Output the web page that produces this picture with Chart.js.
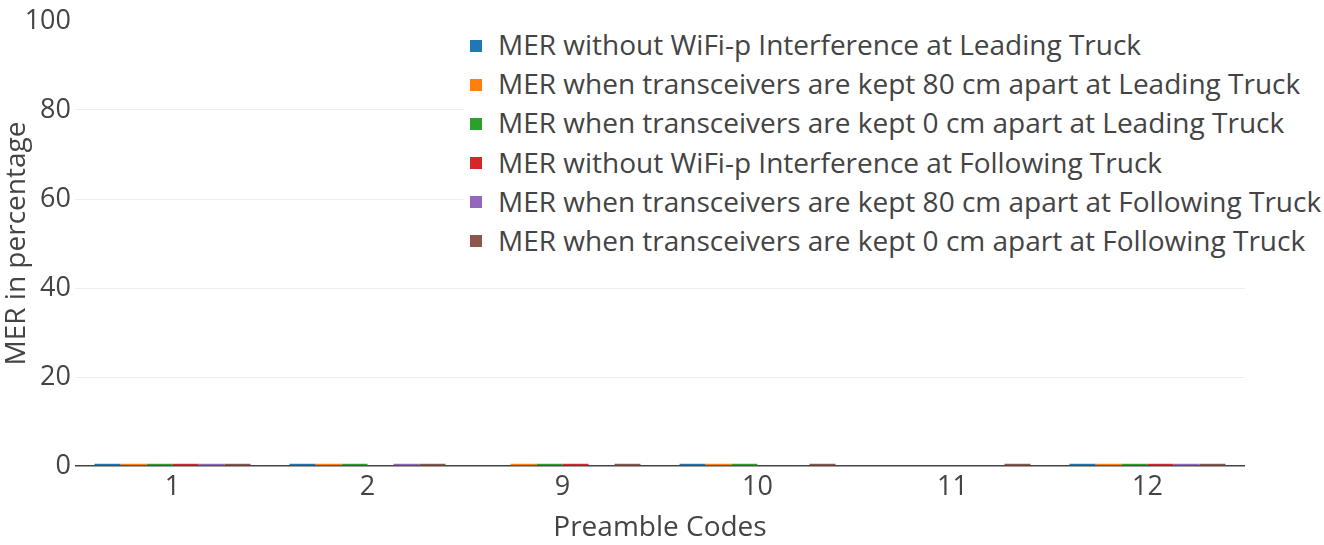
<!DOCTYPE html>
<html><head><meta charset="utf-8">
<script src="https://cdn.jsdelivr.net/npm/chart.js@4/dist/chart.umd.min.js"></script>
<style>
html,body{margin:0;padding:0;background:#fff;}
#wrap{position:relative;width:1324px;height:545px;}
#legend{position:absolute;left:464px;top:25px;font-family:"Open Sans",sans-serif;font-size:28px;color:#444;background:#fff;padding:0 6px 0 0;}
#legend div{height:39.2px;line-height:39.2px;white-space:nowrap;}
#legend span{display:inline-block;width:12px;height:12px;margin:0 16px 0 6px;vertical-align:middle;position:relative;top:-2px;}
</style></head>
<body><div id="wrap"><canvas id="c" width="1324" height="545"></canvas><div id="legend"></div></div>
<script>
const categories = ["1","2","9","10","11","12"];
const seriesNames = [
  "MER without WiFi-p Interference at Leading Truck",
  "MER when transceivers are kept 80 cm apart at Leading Truck",
  "MER when transceivers are kept 0 cm apart at Leading Truck",
  "MER without WiFi-p Interference at Following Truck",
  "MER when transceivers are kept 80 cm apart at Following Truck",
  "MER when transceivers are kept 0 cm apart at Following Truck"
];
const leadNoWifi   = [0.5, 0.5, 0,   0.5, 0,   0.5];
const lead80       = [0.5, 0.5, 0.5, 0.5, 0,   0.5];
const lead0        = [0.5, 0.5, 0.5, 0.5, 0,   0.5];
const followNoWifi = [0.5, 0,   0.5, 0,   0,   0.5];
const follow80     = [0.5, 0.5, 0,   0,   0,   0.5];
const follow0      = [0.5, 0.5, 0.5, 0.5, 0.5, 0.5];
const colors = ["#1f77b4","#ff7f0e","#2ca02c","#d62728","#9467bd","#8c564b"];
const yTicks = [0,20,40,60,80,100];

const seriesValues = [leadNoWifi, lead80, lead0, followNoWifi, follow80, follow0];
const FONT = "'Open Sans', sans-serif";

const datasets = seriesValues.map((v,i)=>({
  label: seriesNames[i], data: v, backgroundColor: colors[i], borderWidth:0,
  categoryPercentage:0.8, barPercentage:1.0
}));

new Chart(document.getElementById('c'), {
  type:'bar',
  data:{labels:categories, datasets},
  options:{
    responsive:false, animation:false,
    layout:{padding:{left:0,right:79,top:21,bottom:0}},
    plugins:{legend:{display:false}, tooltip:{enabled:false}},
    scales:{
      x:{
        grid:{display:false, drawTicks:false},
        border:{display:false},
        ticks:{font:{family:FONT,size:27},color:'#444',padding:5},
        title:{display:true,text:'Preamble Codes',font:{family:FONT,size:28},color:'#444',padding:0},
        afterFit(s){s.height=79;}
      },
      y:{
        min:0,max:100,
        afterBuildTicks(s){s.ticks=yTicks.map(v=>({value:v}));},
        grid:{color:(ctx)=> ctx.tick.value===0 ? '#444' : (ctx.tick.value===100 ? 'rgba(0,0,0,0)' : '#eeeeee'),
              lineWidth:(ctx)=> ctx.tick.value===0 ? 1.5 : 1, drawTicks:false},
        border:{display:false},
        ticks:{font:{family:FONT,size:27},color:'#444',padding:4},
        title:{display:true,text:'MER in percentage',font:{family:FONT,size:28},color:'#444',padding:0},
        afterFit(s){s.width=75;}
      }
    }
  }
});

const lg=document.getElementById('legend');
seriesNames.forEach((n,i)=>{
  const d=document.createElement('div');
  const sw=document.createElement('span'); sw.style.background=colors[i];
  d.appendChild(sw); d.appendChild(document.createTextNode(n)); lg.appendChild(d);
});
</script></body></html>
